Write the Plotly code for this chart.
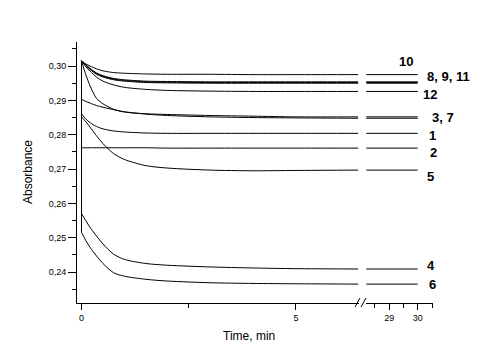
import plotly.graph_objects as go

# ---------------- data ----------------
T_LEFT = [0, 0.1, 0.2, 0.35, 0.5, 0.75, 1.0, 1.5, 2.0, 3.0, 4.0, 5.0, 6.45]
T_RIGHT = [28.2, 30.0]

c10 = [0.3015, 0.3006, 0.3000, 0.2992, 0.2986, 0.2981, 0.2979, 0.2977, 0.2976, 0.2976, 0.2975, 0.2975, 0.2975]
c10_r = [0.2975, 0.2975]

c8 = [0.3015, 0.3004, 0.2993, 0.2980, 0.2972, 0.2964, 0.2960, 0.2956, 0.2955, 0.2954, 0.2954, 0.2954, 0.2954]
c8_r = [0.2954, 0.2954]
c9 = [0.3015, 0.3003, 0.2992, 0.2978, 0.2970, 0.2962, 0.2958, 0.2954, 0.2953, 0.2952, 0.2952, 0.2952, 0.2952]
c9_r = [0.2952, 0.2952]
c11 = [0.3015, 0.3002, 0.2990, 0.2976, 0.2968, 0.2960, 0.2956, 0.2952, 0.2951, 0.2950, 0.2950, 0.2950, 0.2950]
c11_r = [0.2950, 0.2950]

c12 = [0.3015, 0.2998, 0.2985, 0.2968, 0.2956, 0.2945, 0.2938, 0.2932, 0.2929, 0.2927, 0.2926, 0.2926, 0.2926]
c12_r = [0.2926, 0.2926]

c3 = [0.3015, 0.2975, 0.2942, 0.2906, 0.2890, 0.2874, 0.2866, 0.2861, 0.2859, 0.2856, 0.2854, 0.2852, 0.2852]
c3_r = [0.2852, 0.2852]

c7 = [0.2903, 0.2897, 0.2892, 0.2885, 0.2880, 0.2873, 0.2867, 0.2860, 0.2856, 0.2852, 0.2850, 0.2849, 0.2848]
c7_r = [0.2848, 0.2848]

c1 = [0.2861, 0.2846, 0.2835, 0.2824, 0.2817, 0.2811, 0.2808, 0.2805, 0.2804, 0.2804, 0.2804, 0.2804, 0.2804]
c1_r = [0.2804, 0.2804]

c2_jump_from = 0.2957
c2 = [0.2762, 0.2762, 0.2762, 0.2762, 0.2762, 0.2762, 0.2762, 0.2762, 0.2761, 0.2761, 0.2761, 0.2761, 0.2761]
c2_r = [0.2761, 0.2761]

c5 = [0.2852, 0.2838, 0.2822, 0.2797, 0.2774, 0.2745, 0.2728, 0.2710, 0.2703, 0.2697, 0.2695, 0.2696, 0.2697]
c5_r = [0.2697, 0.2697]

c4 = [0.2570, 0.2550, 0.2530, 0.2505, 0.2482, 0.2452, 0.2437, 0.2425, 0.2420, 0.2415, 0.2412, 0.2410, 0.2409]
c4_r = [0.2409, 0.2409]

c6_jump_from = 0.3015
c6 = [0.2516, 0.2492, 0.2472, 0.2447, 0.2425, 0.2398, 0.2388, 0.2379, 0.2374, 0.2369, 0.2367, 0.2366, 0.2365]
c6_r = [0.2365, 0.2365]

Y_TICKS = [0.24, 0.25, 0.26, 0.27, 0.28, 0.29, 0.30]
Y_MINOR = [0.235, 0.245, 0.255, 0.265, 0.275, 0.285, 0.295, 0.305]
X_TICKS_LEFT = [0, 5]
X_MINOR_LEFT = [2.5]
X_TICKS_RIGHT = [29, 30]
X_MINOR_RIGHT = [28.5, 29.5, 30.5]

LABELS = ["10", "8, 9, 11", "12", "3, 7", "1", "2", "5", "4", "6"]
LABEL_Y = [0.30145, 0.29681, 0.29180, 0.28504, 0.27991, 0.27470, 0.26783, 0.24186, 0.23652]
LABEL_X = [0.900, 0.978, 0.967, 0.991, 0.984, 0.986, 0.978, 0.978, 0.984]

# ---------------- figure ----------------
FONT = "Liberation Sans, Arial, sans-serif"
fig = go.Figure()

def add_curve(left, right, jump_from=None, width=1.0):
    if jump_from is not None:
        fig.add_trace(go.Scatter(x=[T_LEFT[0], T_LEFT[0]], y=[jump_from, left[0]],
                                 mode="lines", xaxis="x", yaxis="y",
                                 line=dict(color="black", width=width),
                                 showlegend=False, hoverinfo="skip"))
    fig.add_trace(go.Scatter(x=T_LEFT, y=left, mode="lines", xaxis="x", yaxis="y",
                             line=dict(color="black", width=width, shape="spline",
                                       smoothing=0.8),
                             showlegend=False, hoverinfo="skip"))
    fig.add_trace(go.Scatter(x=T_RIGHT, y=right, mode="lines", xaxis="x2", yaxis="y",
                             line=dict(color="black", width=width), showlegend=False,
                             hoverinfo="skip"))

add_curve(c10, c10_r)
add_curve(c8, c8_r)
add_curve(c9, c9_r)
add_curve(c11, c11_r)
add_curve(c12, c12_r)
add_curve(c3, c3_r)
add_curve(c7, c7_r)
add_curve(c1, c1_r)
add_curve(c2, c2_r, jump_from=c2_jump_from)
add_curve(c5, c5_r)
add_curve(c4, c4_r)
add_curve(c6, c6_r, jump_from=c6_jump_from)

axis_common = dict(showline=True, linecolor="black", linewidth=1, showgrid=False,
                   zeroline=False, ticks="outside", tickcolor="black", tickwidth=1,
                   tickfont=dict(family=FONT, size=9, color="black"))

fig.update_layout(
    width=489, height=364,
    margin=dict(l=77, r=56, t=42, b=61, pad=0),
    paper_bgcolor="white", plot_bgcolor="white",
    separators=",.",
    xaxis=dict(domain=[0, 0.792], range=[-0.105, 6.47], anchor="y",
               tickmode="array", tickvals=X_TICKS_LEFT, ticklen=6,
               minor=dict(tickmode="array", tickvals=X_MINOR_LEFT, ticklen=4,
                          ticks="outside", tickcolor="black"),
               **axis_common),
    xaxis2=dict(domain=[0.8118, 1.0], range=[28.19, 30.535], anchor="y",
                tickmode="array", tickvals=X_TICKS_RIGHT, ticklen=6,
                minor=dict(tickmode="array", tickvals=X_MINOR_RIGHT, ticklen=4,
                           ticks="outside", tickcolor="black"),
                **axis_common),
    yaxis=dict(range=[0.231, 0.307], anchor="x", tickmode="array", tickvals=Y_TICKS,
               tickformat=".2f", ticklen=8,
               minor=dict(tickmode="array", tickvals=Y_MINOR, ticklen=4,
                          ticks="outside", tickcolor="black"),
               **axis_common),
)

# axis break marks
def px_x(p):
    return (p - 77) / 356.0

def px_y(p):
    return (303 - p) / 261.0

for x0 in (355, 361):
    fig.add_shape(type="line", xref="paper", yref="paper",
                  x0=px_x(x0), y0=px_y(307), x1=px_x(x0 + 5), y1=px_y(298),
                  line=dict(color="black", width=1))

for txt, lx, ly in zip(LABELS, LABEL_X, LABEL_Y):
    fig.add_annotation(text="<b>%s</b>" % txt, xref="paper", yref="y", x=lx, y=ly,
                       xanchor="left", yanchor="middle", showarrow=False,
                       font=dict(family=FONT, size=13, color="black"))

fig.add_annotation(text="Time, min", xref="paper", yref="paper",
                   x=px_x(249), y=px_y(336), xanchor="center", yanchor="middle",
                   showarrow=False, font=dict(family=FONT, size=12, color="black"))
fig.add_annotation(text="Absorbance", xref="paper", yref="paper",
                   x=px_x(28), y=px_y(172), xanchor="center", yanchor="middle",
                   textangle=-90, showarrow=False,
                   font=dict(family=FONT, size=12, color="black"))

fig.write_html("out.html", config={"displayModeBar": False},
               post_script="document.body.style.margin='0';")
